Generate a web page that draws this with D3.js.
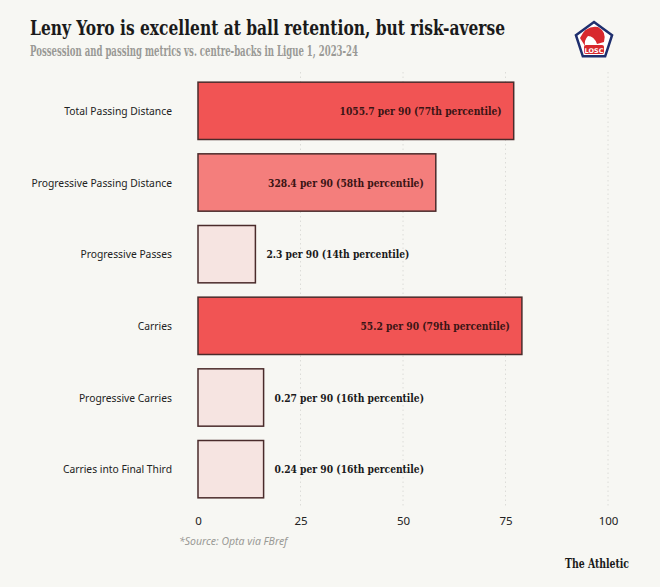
<!DOCTYPE html>
<html><head><meta charset="utf-8">
<script src="https://cdn.jsdelivr.net/npm/d3@7"></script>
<style>
html,body{margin:0;padding:0;background:#f7f7f3;}
svg{display:block;}
</style></head>
<body>
<script>
const categories = ["Total Passing Distance","Progressive Passing Distance","Progressive Passes","Carries","Progressive Carries","Carries into Final Third"];
const percentiles = [77,58,14,79,16,16];
const perNinety = ["1055.7","328.4","2.3","55.2","0.27","0.24"];
const ordinals = ["77th","58th","14th","79th","16th","16th"];
const tickValues = [0,25,50,75,100];

const W=660,H=587;
const svg=d3.select("body").append("svg").attr("width",W).attr("height",H);
svg.append("rect").attr("width",W).attr("height",H).attr("fill","#f7f7f3");

const x=d3.scaleLinear().domain([0,100]).range([198,608]);
const y=d3.scaleBand().domain(categories).range([75,505]).paddingInner(0.2).paddingOuter(0.1);

// gridlines
svg.append("g").selectAll("line").data(tickValues.slice(1)).join("line")
  .attr("x1",d=>x(d)).attr("x2",d=>x(d)).attr("y1",72).attr("y2",508)
  .attr("stroke","#dcdcd8").attr("stroke-width",1).attr("stroke-dasharray","1.5,3");

function fillFor(p){ if(p>=70) return "#f15454"; if(p>=50) return "#f47e7c"; return "#f6e4e1"; }

const rows=categories.map((c,i)=>({c,p:percentiles[i],v:perNinety[i],o:ordinals[i]}));
svg.append("g").selectAll("rect").data(rows).join("rect")
  .attr("x",x(0)).attr("y",d=>y(d.c)).attr("width",d=>x(d.p)-x(0)).attr("height",y.bandwidth())
  .attr("fill",d=>fillFor(d.p)).attr("stroke","#4a2b2b").attr("stroke-width",1.5);

const font="'DejaVu Serif Condensed','DejaVu Serif',serif";
svg.append("g").selectAll("text").data(rows).join("text")
  .attr("x",d=>d.p>=50? x(d.p)-12 : x(d.p)+11)
  .attr("y",d=>y(d.c)+y.bandwidth()/2+4)
  .attr("text-anchor",d=>d.p>=50?"end":"start")
  .attr("font-family",font).attr("font-weight","bold").attr("font-size",10.2)
  .attr("fill",d=>d.p>=50?"#3a1414":"#1a1a1a")
  .text(d=>`${d.v} per 90 (${d.o} percentile)`);

// category labels
svg.append("g").selectAll("text").data(categories).join("text")
  .attr("x",172).attr("y",d=>y(d)+y.bandwidth()/2+4).attr("text-anchor","end")
  .attr("font-family","'Noto Sans',sans-serif").attr("font-size",10.3).attr("fill","#222")
  .text(d=>d);

// axis
const ax=svg.append("g").attr("transform","translate(0,515)")
  .call(d3.axisBottom(x).tickValues(tickValues).tickSize(0).tickPadding(2));
ax.select(".domain").remove();
ax.selectAll("text").attr("font-family","'Noto Sans',sans-serif").attr("font-size",11.5).attr("fill","#222");

// title
svg.append("text").attr("x",30).attr("y",35).attr("font-family",font).attr("font-weight","bold")
  .attr("font-size",20).attr("textLength",475).attr("lengthAdjust","spacingAndGlyphs")
  .attr("fill","#1a1a1a").text("Leny Yoro is excellent at ball retention, but risk-averse");
svg.append("text").attr("x",30).attr("y",56).attr("font-family",font).attr("font-weight","bold")
  .attr("font-size",14).attr("textLength",328).attr("lengthAdjust","spacingAndGlyphs")
  .attr("fill","#9a9a96").text("Possession and passing metrics vs. centre-backs in Ligue 1, 2023-24");

svg.append("text").attr("x",179).attr("y",545).attr("font-family","'Noto Sans',sans-serif").attr("font-style","italic")
  .attr("font-size",10.5).attr("fill","#9a9a96").text("*Source: Opta via FBref");
svg.append("text").attr("x",629).attr("y",568).attr("text-anchor","end").attr("font-family",font).attr("font-weight","bold")
  .attr("font-size",12).attr("textLength",64).attr("lengthAdjust","spacingAndGlyphs").attr("fill","#1a1a1a").text("The Athletic");

// LOSC logo
const lg=svg.append("g").attr("transform","translate(594,40)");
const pent=d3.range(5).map(i=>{const a=-Math.PI/2+i*2*Math.PI/5;return [19*Math.cos(a),19*Math.sin(a)+1];});
lg.append("polygon").attr("points",pent.map(p=>p.join(",")).join(" ")).attr("fill","#fff").attr("stroke","#1f2f6e").attr("stroke-width",2.5);
lg.append("path").attr("d","M-14,-2 Q-8,-15 4,-13 Q13,-8 10,2 L3,4 Q0,-4 -6,-4 Q-10,0 -9,6 Z").attr("fill","#d8282e");
lg.append("rect").attr("x",-10).attr("y",5).attr("width",20).attr("height",9).attr("rx",2).attr("fill","#d8282e");
lg.append("text").attr("x",0).attr("y",12.5).attr("text-anchor","middle").attr("font-family","'DejaVu Sans',sans-serif")
  .attr("font-weight","bold").attr("font-size",6.5).attr("fill","#fff").text("LOSC");
</script>
</body></html>
